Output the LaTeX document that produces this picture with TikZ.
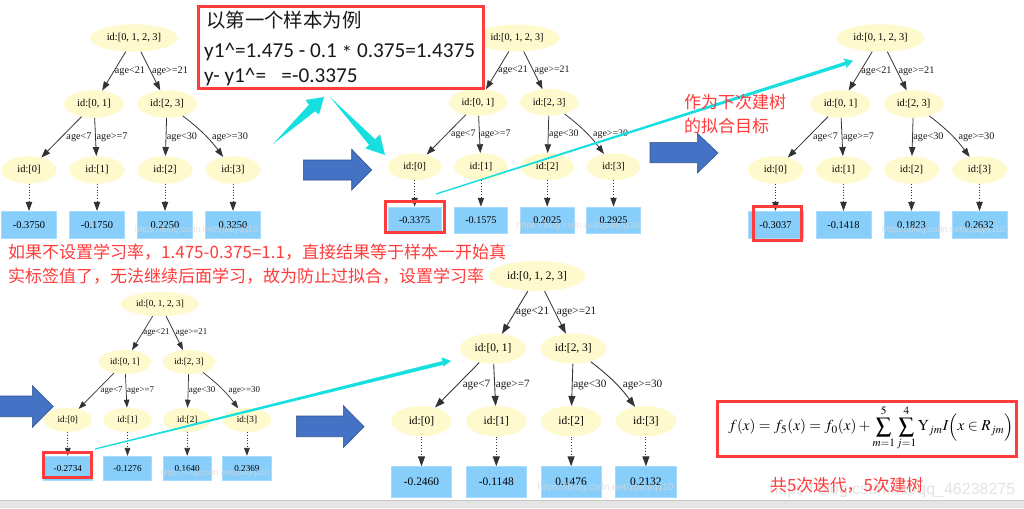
\documentclass[tikz,border=0pt]{standalone}
\usepackage{mathptmx}
\usepackage{fontspec}
\setmainfont{Liberation Serif}
\newfontfamily\cjk{Noto Sans CJK SC}
\newfontfamily\lat{Carlito}
\newfontfamily\wmfont{Liberation Sans}
\usetikzlibrary{shapes.geometric,arrows.meta}
\definecolor{lemon}{HTML}{FFFACD}
\definecolor{leafblue}{HTML}{87CEFA}
\definecolor{leafedge}{HTML}{A8DCFF}
\definecolor{hlred}{HTML}{FF3B3B}
\definecolor{tealc}{HTML}{17DFDF}
\definecolor{blockblue}{HTML}{4472C4}
\definecolor{blockedge}{HTML}{2F528F}
\definecolor{edgegray}{HTML}{333333}
\tikzset{
  ell/.style={ellipse,fill=lemon,inner sep=0pt,font=\tf,text=black,minimum height=\hh pt},
  leafbox/.style={rectangle,fill=leafblue,draw=leafedge,line width=.6pt,inner sep=0pt,font=\tf,text=black,minimum width=\lw pt,minimum height=\hh pt},
  edgelab/.style={inner sep=0pt,font=\tl,text=black!90},
  solidedge/.style={draw=edgegray,line width=\lnw pt,-{Stealth[inset=0pt,length=\al pt,width=\aw pt]}},
  dotedge/.style={draw=black!80,line width=\lnw pt,dotted,-{Stealth[inset=0pt,length=\al pt,width=\aw pt]}},
  hlbox/.style={draw=hlred,line width=3pt,fill=none},
  bigbox/.style={draw=hlred,line width=3pt,fill=white},
  block/.style={fill=blockblue,draw=blockedge,line width=.6pt},
  teal/.style={fill=tealc,draw=none},
  redtext/.style={inner sep=0pt,anchor=west,text=hlred,font=\cjk\fontsize{17}{17}\selectfont},
  wm/.style={inner sep=0pt,text=white!70!gray,opacity=.75,font=\wmfont\fontsize{#1}{#1}\selectfont},
}
\newcommand{\treeat}[8]{%
  \begin{scope}[shift={(#2,#3)},x=#4pt,y=-#4pt]
    \pgfmathsetmacro\fsz{10.4*#4}\pgfmathsetmacro\lsz{10.2*#4}
    \pgfmathsetmacro\hh{27.5*#4}\pgfmathsetmacro\lw{55*#4}
    \pgfmathsetmacro\al{9*#4}\pgfmathsetmacro\aw{6.4*#4}\pgfmathsetmacro\lnw{.8*#4}
    \pgfmathsetmacro\wr{88*#4}\pgfmathsetmacro\wi{60*#4}\pgfmathsetmacro\wl{55*#4}
    \def\tf{\fontsize{\fsz}{\fsz}\selectfont}
    \def\tl{\fontsize{\lsz}{\lsz}\selectfont}
    \node[ell,minimum width=\wr pt] (#1r) at (0,0) {id:[0, 1, 2, 3]};
    \node[ell,minimum width=\wi pt] (#1a) at (-40,66) {id:[0, 1]};
    \node[ell,minimum width=\wi pt] (#1b) at (33,66) {id:[2, 3]};
    \node[ell,minimum width=\wl pt] (#1c0) at (-105,132) {id:[0]};
    \node[ell,minimum width=\wl pt] (#1c1) at (-37,132) {id:[1]};
    \node[ell,minimum width=\wl pt] (#1c2) at (31,132) {id:[2]};
    \node[ell,minimum width=\wl pt] (#1c3) at (99,132) {id:[3]};
    \node[leafbox] (#1l0) at (-105,187) {#5};
    \node[leafbox] (#1l1) at (-37,187) {#6};
    \node[leafbox] (#1l2) at (31,187) {#7};
    \node[leafbox] (#1l3) at (99,187) {#8};
    \path[solidedge] (#1r) -- (#1a);
    \path[solidedge] (#1r) -- (#1b);
    \path[solidedge] (#1a) -- (#1c0);
    \path[solidedge] (#1a) -- (#1c1);
    \path[solidedge] (#1b) -- (#1c2);
    \path[solidedge] (#1b) to[bend left=8] (#1c3);
    \path[dotedge] (#1c0) -- (#1l0);
    \path[dotedge] (#1c1) -- (#1l1);
    \path[dotedge] (#1c2) -- (#1l2);
    \path[dotedge] (#1c3) -- (#1l3);
    \node[edgelab] (#1e1) at (-4,33) {age<21};
    \node[edgelab] (#1e2) at (36,33) {age>=21};
    \node[edgelab] (#1e3) at (-55,99) {age<7};
    \node[edgelab] (#1e4) at (-22,99) {age>=7};
    \node[edgelab] (#1e5) at (48,99) {age<30};
    \node[edgelab] (#1e6) at (96,99) {age>=30};
  \end{scope}}
\begin{document}
\begin{tikzpicture}[x=1pt,y=-1pt]
\path[use as bounding box,fill=white] (0,0) rectangle (1024,508);
% bottom bar
\fill[black!10] (0,500) rectangle (1024,508);
\draw[black!22,line width=1pt] (0,500) -- (1024,500);

\treeat{p}{134}{38}{1}{-0.3750}{-0.1750}{0.2250}{0.3250}
\treeat{q}{517}{38}{.975}{-0.3375}{-0.1575}{0.2025}{0.2925}
\treeat{s}{880.5}{38}{1}{-0.3037}{-0.1418}{0.1823}{0.2632}
\treeat{t}{160}{304}{.878}{-0.2734}{-0.1276}{0.1640}{0.2369}
\treeat{u}{537}{276}{1.1}{-0.2460}{-0.1148}{0.1476}{0.2132}

% watermarks
\node[wm=9] (w1) at (196.5,230) {https://blog.csdn.net/zpalyq110};
\node[wm=9] (w2) at (578,226) {https://blog.csdn.net/zpalyq110};
\node[wm=9] (w3) at (943.5,230) {https://blog.csdn.net/zpalyq110};
\node[wm=7.9] (w4) at (215,473) {https://blog.csdn.net/zpalyq110};
\node[wm=9.9] (w5) at (605.5,488) {https://blog.csdn.net/zpalyq110};
\node[wm=16,text=black!11,opacity=1] (w6) at (892.5,490) {https://blog.csdn.net/qq\_46238275};

% block arrows
\draw[block] (303.3,160) -- (351.7,160) -- (351.7,149.3) -- (371.7,170) -- (351.7,190) -- (351.7,180) -- (303.3,180) -- cycle;
\draw[block] (650,142.3) -- (697.3,142.3) -- (697.3,133.3) -- (718,153) -- (697.3,173) -- (697.3,162.7) -- (650,162.7) -- cycle;
\draw[block] (-2,396) -- (32.3,396) -- (32.3,385.7) -- (53.3,406.5) -- (32.3,427.3) -- (32.3,416.7) -- (-2,416.7) -- cycle;
\draw[block] (296.3,416) -- (343.3,416) -- (343.3,405.7) -- (364,426.6) -- (343.3,447.7) -- (343.3,436.7) -- (296.3,436.7) -- cycle;

% teal arrows
\fill[teal] (273,144) -- (309,104.7) -- (305.5,100) -- (324,97) -- (319,114.5) -- (315,111.3) -- cycle;
\fill[teal] (330,97) -- (375,139.2) -- (380,134.5) -- (385,155) -- (365.5,148.5) -- (369,144.8) -- cycle;
\fill[teal] (435.8,193.4) -- (845.5,61.6) -- (843,58.5) -- (853,60.7) -- (846,68.5) -- (846.5,65) -- (436.2,194.6) -- cycle;
\fill[teal] (94.9,448.4) -- (442.5,361) -- (441.7,357.3) -- (451,361) -- (443,366.7) -- (443.5,364.8) -- (95.1,449.6) -- cycle;

% highlight boxes
\node[hlbox,inner sep=0pt,minimum width=59.5pt,minimum height=31pt] (h1) at (414.75,217) {};
\node[hlbox,inner sep=0pt,minimum width=48.5pt,minimum height=34pt] (h2) at (777.25,223.5) {};
\node[hlbox,inner sep=0pt,minimum width=47.5pt,minimum height=25pt] (h3) at (67.25,465) {};

% text box
\node[bigbox,inner sep=0pt,minimum width=285pt,minimum height=82pt] (b1) at (340.5,48) {};
\node[inner sep=0pt,anchor=west,text=black!90,font=\cjk\fontsize{19.4}{20}\selectfont] (b1a) at (206,20) {以第一个样本为例};
\node[inner sep=0pt,anchor=west,text=black!90,font=\lat\fontsize{21.2}{21}\selectfont] (b1b) at (204,52) {y1\^{}=1.475 - 0.1 \raisebox{-.3ex}{*} 0.375=1.4375};
\node[inner sep=0pt,anchor=west,text=black!90,font=\lat\fontsize{21.2}{21}\selectfont] (b1c) at (204,77) {y- y1\^{}=\hspace{.5em} =-0.3375};

% red texts
\node[redtext] (r1) at (8,252) {如果不设置学习率，1.475-0.375=1.1，直接结果等于样本一开始真};
\node[redtext] (r2) at (8,276) {实标签值了，无法继续后面学习，故为防止过拟合，设置学习率};
\node[redtext] (r3) at (684,102) {作为下次建树};
\node[redtext] (r4) at (684,126) {的拟合目标};
\node[redtext,font=\cjk\fontsize{16.8}{17}\selectfont] (r5) at (770,485) {共5次迭代，5次建树};

% formula
\node[bigbox,inner sep=0pt,minimum width=299pt,minimum height=55pt] (f0) at (867,429) {};
\node[inner sep=0pt,scale=1.52,transform shape] (f1) at (871,428) {$\displaystyle f(x)=f_5(x)=f_0(x)+\sum_{m=1}^{5}\sum_{j=1}^{4}\mathrm{Y}_{jm}I\Bigl(x\in R_{jm}\Bigr)$};
\end{tikzpicture}
\end{document}
